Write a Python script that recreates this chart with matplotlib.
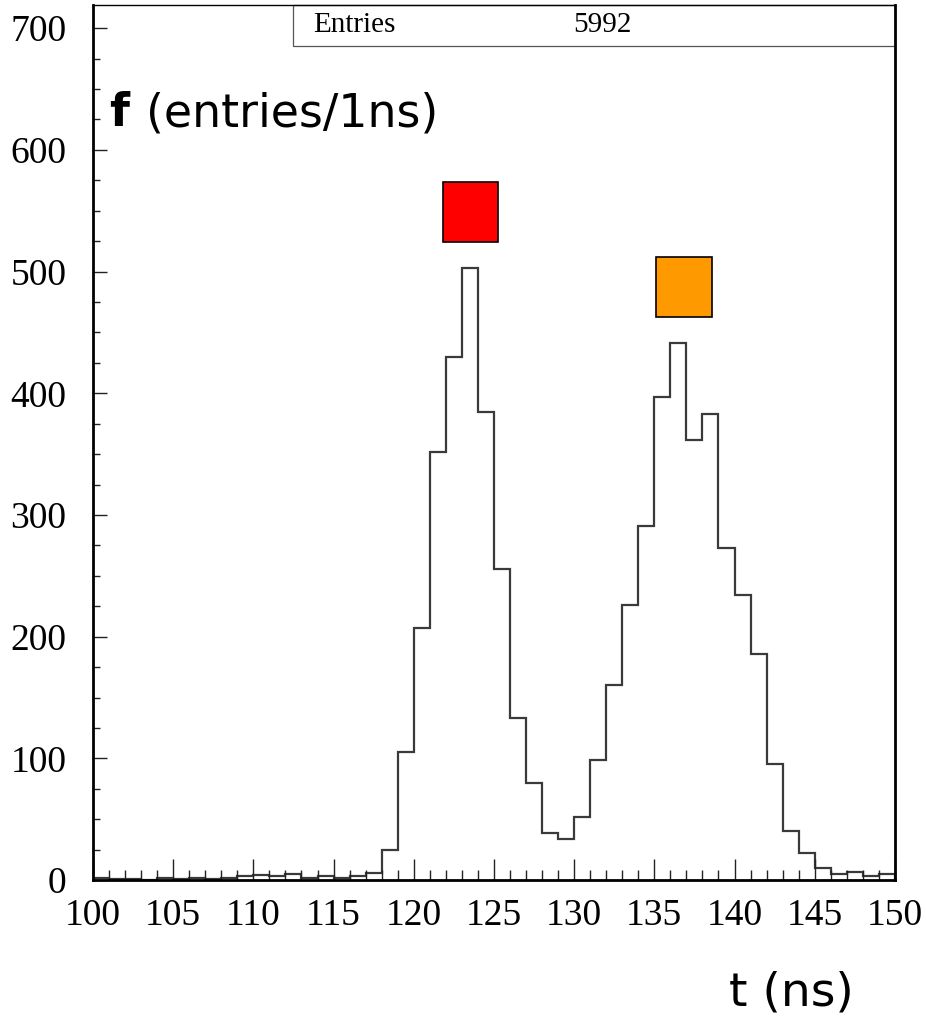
import numpy as np
import matplotlib
matplotlib.use("Agg")
import matplotlib.pyplot as plt
from matplotlib.patches import Rectangle
from matplotlib.ticker import MultipleLocator

# time histogram, 1 ns bins from 100 to 150 ns
edges = np.arange(100, 151, 1)
counts = [2, 1, 1, 0, 2, 1, 2, 1, 2, 3,
          4, 3, 5, 2, 3, 2, 3, 6, 25, 105,
          207, 352, 430, 503, 385, 256, 133, 80, 39, 34,
          52, 99, 160, 226, 291, 397, 441, 362, 383, 273,
          234, 186, 95, 40, 22, 10, 5, 7, 3, 5]
entries = 5992
xticks = np.arange(100, 151, 5)
yticks = np.arange(0, 701, 100)

fig = plt.figure(figsize=(9.26, 10.21), dpi=100)
ax = fig.add_axes([0.1004, 0.138, 0.866, 0.857])

ax.stairs(counts, edges, color="#3a3a3a", lw=1.6, baseline=0)

ax.set_xlim(100, 150)
ax.set_ylim(0, 719)
ax.set_xticks(xticks)
ax.set_yticks(yticks)
ax.xaxis.set_minor_locator(MultipleLocator(1))
ax.yaxis.set_minor_locator(MultipleLocator(25))
ax.tick_params(which="both", direction="in", top=False, right=False,
               width=1.0, color="#222222")
ax.tick_params(axis="x", which="major", length=15, pad=13)
ax.tick_params(axis="x", which="minor", length=7)
ax.tick_params(axis="y", which="major", length=10, pad=19)
ax.tick_params(axis="y", which="minor", length=5)
for lab in ax.get_xticklabels() + ax.get_yticklabels():
    lab.set_fontfamily("Liberation Serif")
    lab.set_fontsize(27)
for s in ["left", "bottom", "right"]:
    ax.spines[s].set_linewidth(2.0)
ax.spines["top"].set_linewidth(1.0)

# stats box
ax.add_patch(Rectangle((0.249, 0.953), 0.751, 0.047, transform=ax.transAxes,
                       fill=False, lw=0.9, ec="#555555", clip_on=False))
ax.text(0.275, 0.977, "Entries", transform=ax.transAxes, fontsize=21,
        family="Liberation Serif", va="center", ha="left")
ax.text(0.635, 0.977, str(entries), transform=ax.transAxes, fontsize=21,
        family="Liberation Serif", va="center", ha="center")

# peak markers
ax.add_patch(Rectangle((0.4365, 0.729), 0.0685, 0.069, transform=ax.transAxes,
                       fc="#ff0000", ec="black", lw=1.2))
ax.add_patch(Rectangle((0.7020, 0.643), 0.0695, 0.069, transform=ax.transAxes,
                       fc="#ff9900", ec="black", lw=1.2))

ax.text(0.020, 0.876, "f", transform=ax.transAxes, fontsize=33,
        family="DejaVu Sans", fontweight="bold", va="center", ha="left")
ax.text(0.066, 0.876, "(entries/1ns)", transform=ax.transAxes, fontsize=33,
        family="DejaVu Sans", va="center", ha="left")
fig.text(0.855, 0.027, "t (ns)", fontsize=34, family="DejaVu Sans",
         va="center", ha="center")

fig.savefig("out.png", dpi=100, facecolor="white")
